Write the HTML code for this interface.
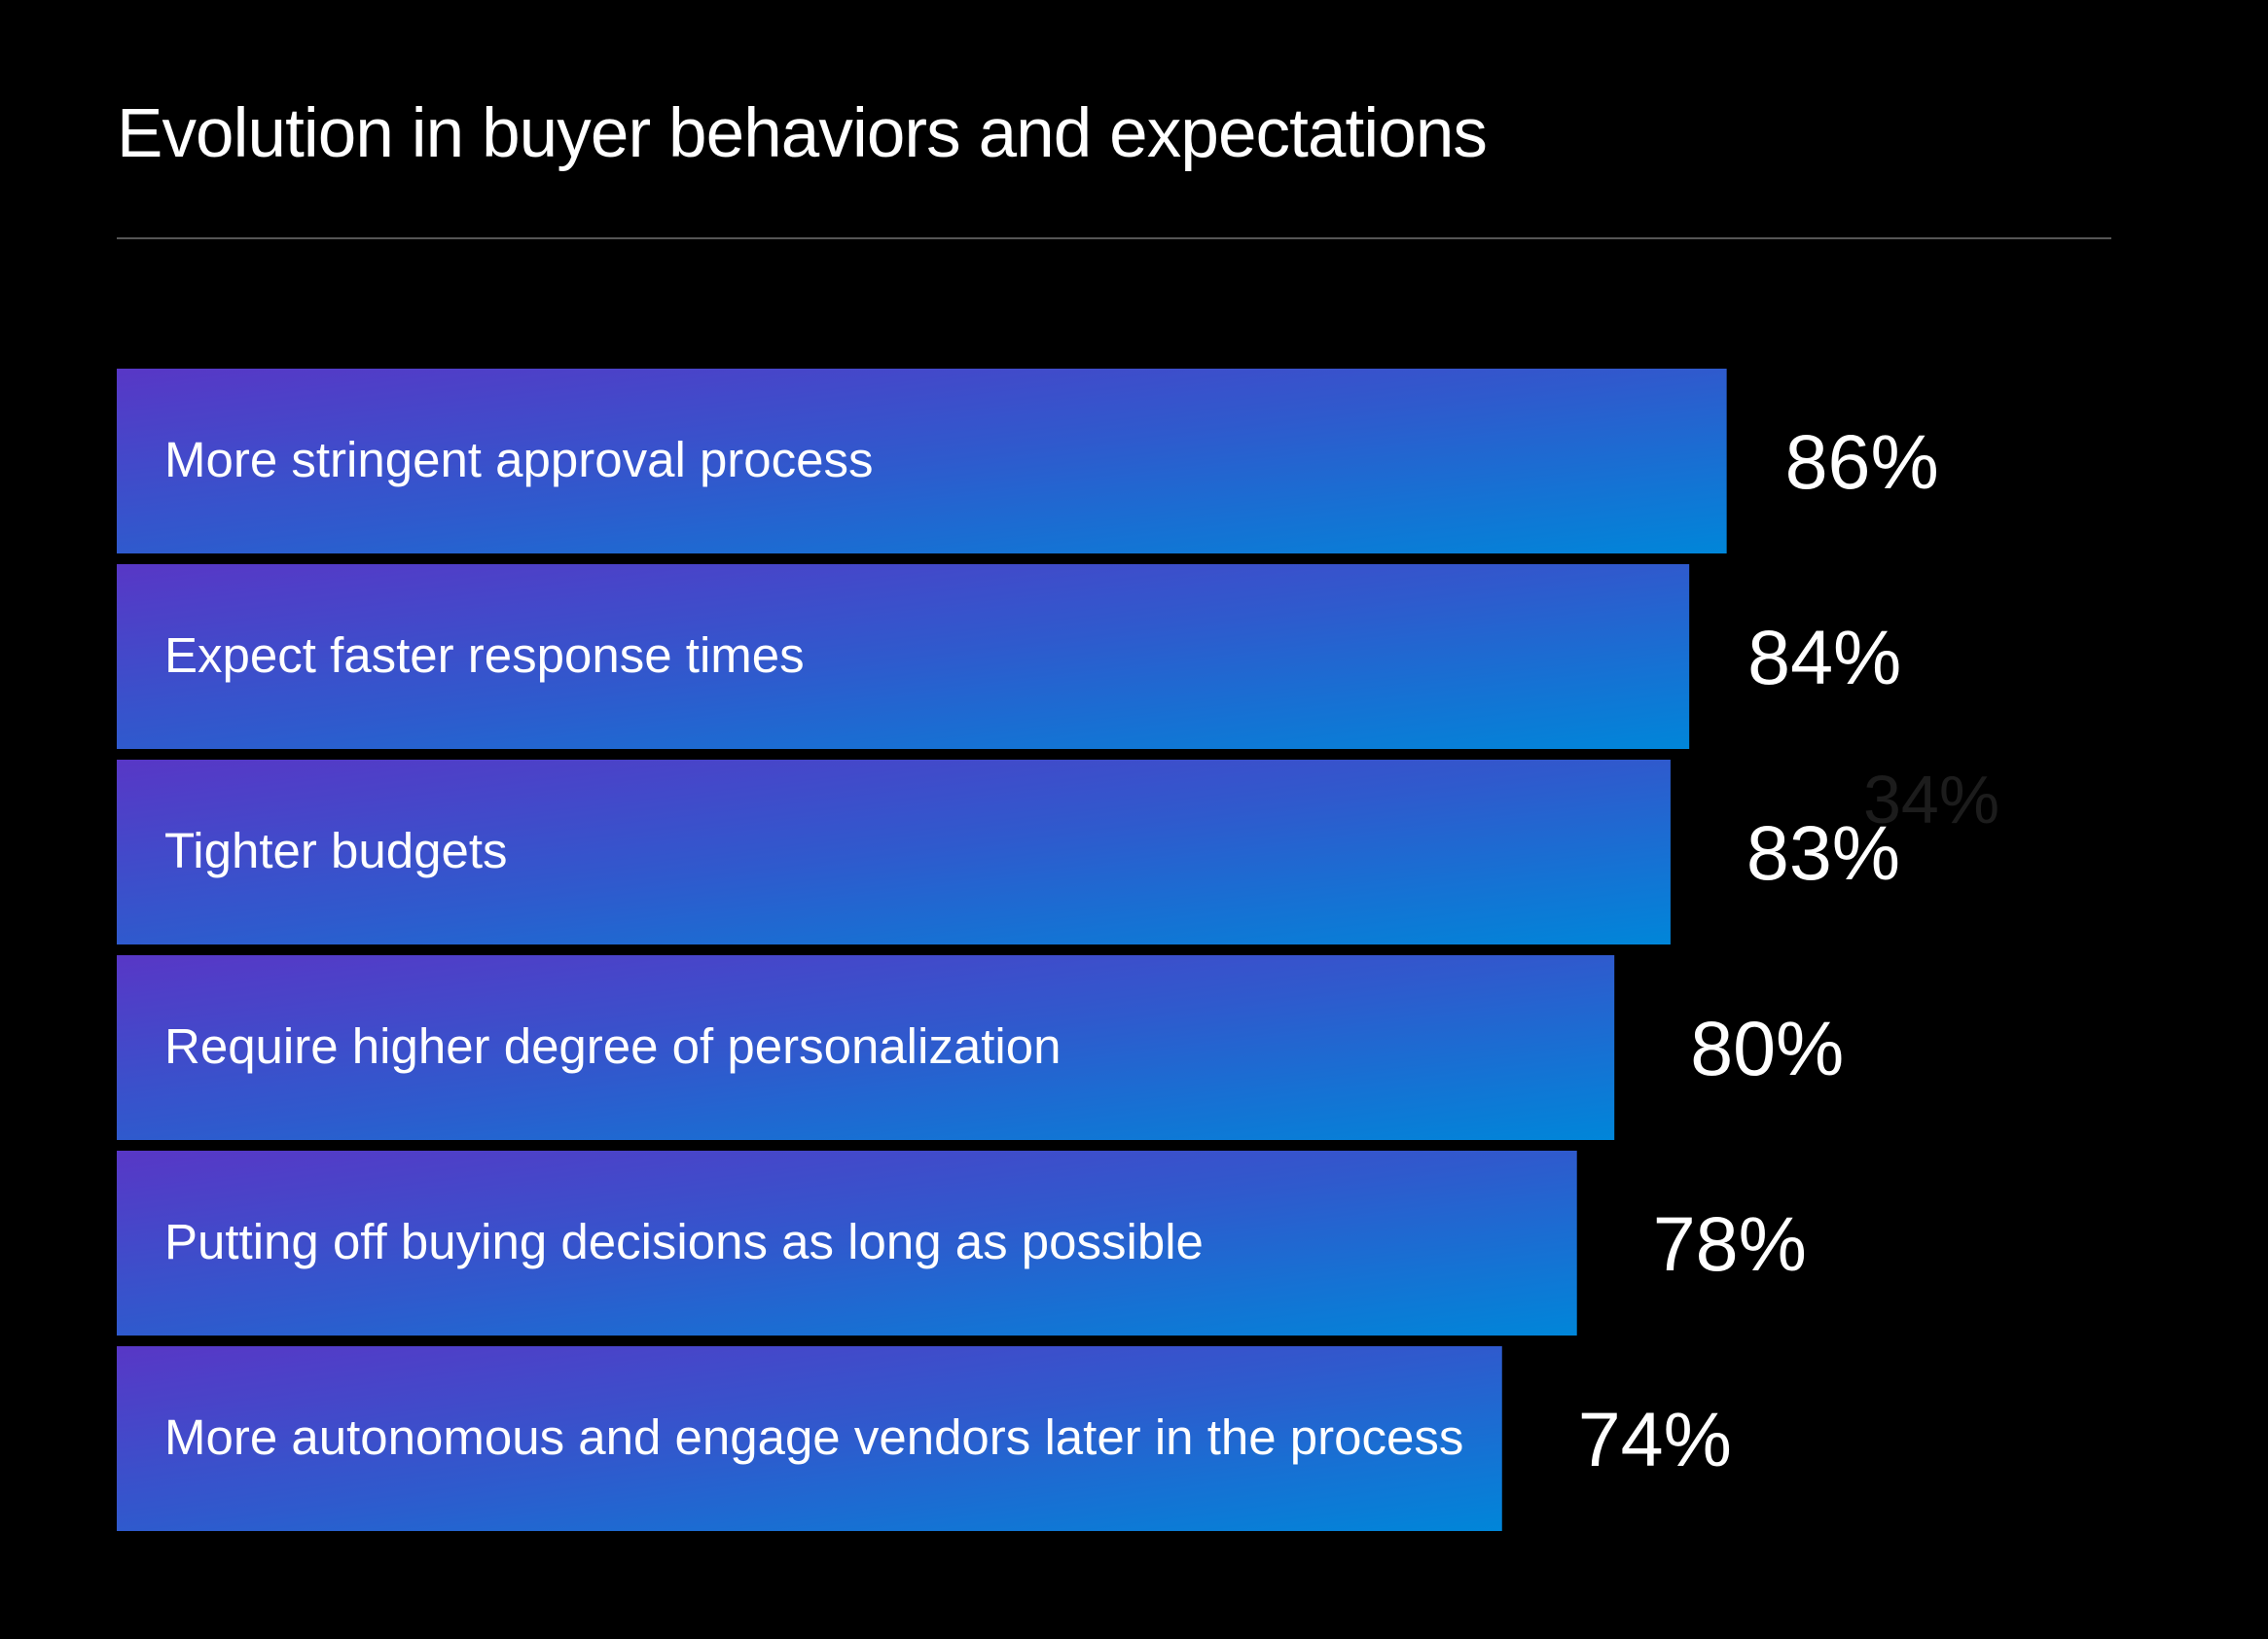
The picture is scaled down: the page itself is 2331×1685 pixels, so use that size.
<!DOCTYPE html>
<html><head><meta charset="utf-8"><style>
html,body{margin:0;padding:0;background:#000;}
body{width:2331px;height:1680px;overflow:hidden;font-family:"Liberation Sans",sans-serif;}
</style></head><body>
<svg id="chart" width="2331" height="1680" xmlns="http://www.w3.org/2000/svg">
<defs>
<linearGradient id="g" x1="0" y1="0" x2="1" y2="1">
<stop offset="0" stop-color="#5837c6"/>
<stop offset="0.5" stop-color="#2f5acd"/>
<stop offset="1" stop-color="#0086d9"/>
</linearGradient>
</defs>
<text x="120" y="161" fill="#fff" font-size="71" letter-spacing="-0.9">Evolution in buyer behaviors and expectations</text>
<line x1="120" y1="245" x2="2170" y2="245" stroke="#555" stroke-width="2"/>
<text x="1915" y="846" fill="#1c1c1c" font-size="70">34%</text>
<g id="bars"></g>
</svg>
<script>
const categories = ["More stringent approval process","Expect faster response times","Tighter budgets","Require higher degree of personalization","Putting off buying decisions as long as possible","More autonomous and engage vendors later in the process"];
const values = [86,84,83,80,78,74];
const valueLabels = ["86%","84%","83%","80%","78%","74%"];
const x0 = 120, pxPer = 19.24, top0 = 379, pitch = 201, barH = 190;
function xScale(v){return x0 + v*pxPer;}
function yScale(i){return top0 + i*pitch;}
const NS="http://www.w3.org/2000/svg";
const g=document.getElementById('bars');
categories.forEach((c,i)=>{
  const y=yScale(i), w=xScale(values[i])-x0;
  const r=document.createElementNS(NS,'rect');
  
  
  r.setAttribute('x',x0);r.setAttribute('y',y);r.setAttribute('width',w);r.setAttribute('height',barH);
  r.setAttribute('fill','url(#g)');
  g.appendChild(r);
  const t=document.createElementNS(NS,'text');
  
  
  t.setAttribute('x',169);t.setAttribute('y',y+barH/2+16);
  t.setAttribute('fill','#fff');t.setAttribute('font-size','51');
  t.textContent=c;g.appendChild(t);
  const v=document.createElementNS(NS,'text');
  
  
  const off = i < 2 ? 60 : 78;
  v.setAttribute('x',xScale(values[i])+off);v.setAttribute('y',y+barH/2+28);
  v.setAttribute('fill','#fff');v.setAttribute('font-size','79');
  v.textContent=valueLabels[i];g.appendChild(v);
});
</script>
</body></html>
